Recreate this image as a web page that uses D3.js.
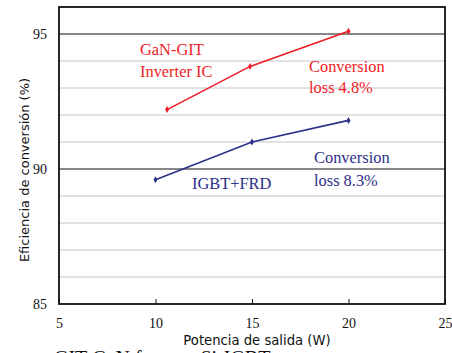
<!DOCTYPE html>
<html>
<head>
<meta charset="utf-8">
<script src="https://cdn.jsdelivr.net/npm/d3@7"></script>
<style>
  body { margin: 0; background: #fff; }
  svg { display: block; }
</style>
</head>
<body>
<div id="chart"></div>
<script>
// data
const ganPower = [10.6, 14.9, 20];
const ganEff = [92.2, 93.8, 95.1];
const igbtPower = [10, 15, 20];
const igbtEff = [89.6, 91.0, 91.8];
const xTicks = [5, 10, 15, 20, 25];
const yTicks = [85, 90, 95];
const yMinor = [86, 87, 88, 89, 91, 92, 93, 94];

const width = 452, height = 353;
const margin = {top: 7, right: 7, bottom: 49, left: 59};

const svg = d3.select("#chart").append("svg")
  .attr("width", width)
  .attr("height", height);

const x = d3.scaleLinear().domain([5, 25]).range([margin.left, width - margin.right]);
const y = d3.scaleLinear().domain([85, 96]).range([height - margin.bottom, margin.top]);

const serif = "'Liberation Serif', 'Times New Roman', serif";
const sans = "'DejaVu Sans', Verdana, sans-serif";

// minor grid
svg.append("g").selectAll("line").data(yMinor).enter().append("line")
  .attr("x1", x(5)).attr("x2", x(25))
  .attr("y1", d => y(d)).attr("y2", d => y(d))
  .attr("stroke", "#c4c4c4").attr("stroke-width", 1);

// major grid
svg.append("g").selectAll("line").data([90, 95]).enter().append("line")
  .attr("x1", x(5)).attr("x2", x(25))
  .attr("y1", d => y(d)).attr("y2", d => y(d))
  .attr("stroke", "#111").attr("stroke-width", 1.2);

// x axis ticks (inward) + labels
const xAxis = d3.axisBottom(x).tickValues(xTicks).tickSize(-5).tickPadding(14);
const gx = svg.append("g")
  .attr("transform", `translate(0,${y(85)})`)
  .call(xAxis);
gx.select(".domain").remove();
gx.selectAll("line").attr("stroke", "#111");
gx.selectAll("text").attr("font-family", serif).attr("font-size", 14).attr("fill", "#111");

// y axis labels
const yAxis = d3.axisLeft(y).tickValues(yTicks).tickSize(0).tickPadding(12);
const gy = svg.append("g")
  .attr("transform", `translate(${x(5)},0)`)
  .call(yAxis);
gy.select(".domain").remove();
gy.selectAll("text").attr("font-family", serif).attr("font-size", 14).attr("fill", "#111");

// frame
svg.append("rect")
  .attr("x", x(5)).attr("y", y(96))
  .attr("width", x(25) - x(5)).attr("height", y(85) - y(96))
  .attr("fill", "none").attr("stroke", "#111").attr("stroke-width", 1.8);

// series
const line = d3.line().x(d => x(d[0])).y(d => y(d[1]));
const series = [
  {p: ganPower, e: ganEff, color: "#ee1c25"},
  {p: igbtPower, e: igbtEff, color: "#2b3088"}
];
const diamond = d3.symbol().type(d3.symbolDiamond).size(14);
series.forEach(s => {
  const pts = s.p.map((v, i) => [v, s.e[i]]);
  svg.append("path").datum(pts)
    .attr("d", line)
    .attr("fill", "none").attr("stroke", s.color).attr("stroke-width", 1.6);
  svg.append("g").selectAll("path").data(pts).enter().append("path")
    .attr("d", diamond)
    .attr("transform", d => `translate(${x(d[0])},${y(d[1])})`)
    .attr("fill", s.color);
});

// annotations
const notes = [
  {t: "GaN-GIT", x: 140, y: 55, c: "#ee1c25"},
  {t: "Inverter IC", x: 140, y: 77, c: "#ee1c25"},
  {t: "Conversion", x: 309, y: 72, c: "#ee1c25"},
  {t: "loss 4.8%", x: 309, y: 93, c: "#ee1c25"},
  {t: "Conversion", x: 314, y: 163, c: "#2b3088"},
  {t: "loss 8.3%", x: 314, y: 186, c: "#2b3088"},
  {t: "IGBT+FRD", x: 192, y: 189, c: "#2b3088"}
];
svg.append("g").selectAll("text").data(notes).enter().append("text")
  .attr("x", d => d.x).attr("y", d => d.y)
  .attr("font-family", serif).attr("font-size", 16.4)
  .attr("fill", d => d.c)
  .text(d => d.t);

// axis titles
svg.append("text")
  .attr("x", 257).attr("y", 345)
  .attr("text-anchor", "middle")
  .attr("font-family", sans).attr("font-size", 13.2).attr("fill", "#111")
  .text("Potencia de salida (W)");

svg.append("text")
  .attr("transform", `translate(29,170) rotate(-90)`)
  .attr("text-anchor", "middle")
  .attr("font-family", sans).attr("font-size", 13).attr("fill", "#111")
  .text("Eficiencia de conversión (%)");

// caption cut off at the bottom edge
svg.append("text")
  .attr("x", 54).attr("y", 365)
  .attr("font-family", serif).attr("font-size", 20).attr("fill", "#111")
  .text("GIT-GaN frente a Si-IGBT");
</script>
</body>
</html>
